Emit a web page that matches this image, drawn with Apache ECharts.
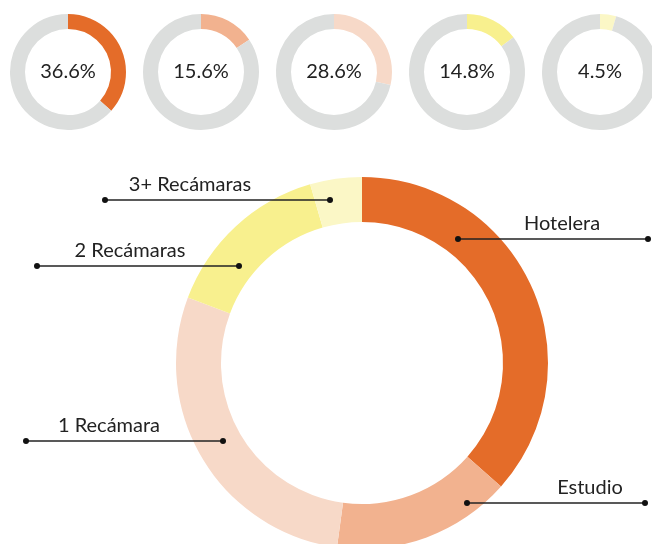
<!DOCTYPE html>
<html><head><meta charset="utf-8">
<script src="https://cdn.jsdelivr.net/npm/echarts@6/dist/echarts.min.js"></script>
<style>html,body{margin:0;padding:0;background:#fff}#c{width:652px;height:544px}</style>
</head><body><div id="c"></div>
<script>
const categories = ['Hotelera', 'Estudio', '1 Recámara', '2 Recámaras', '3+ Recámaras'];
const shares = [36.6, 15.6, 28.6, 14.8, 4.5];
const colors = ['#E46C29', '#F2B28F', '#F7D9C8', '#F8F08E', '#FBF7C6'];
const restColor = '#DCDEDD';

// annotation layout (leader line y, left x, right x, text centre x) per category
const leaders = [
  {y: 239, x1: 458, x2: 648, tx: 562},
  {y: 503, x1: 467, x2: 645, tx: 590},
  {y: 441, x1: 26, x2: 223, tx: 109},
  {y: 266, x1: 37, x2: 239, tx: 130},
  {y: 200, x1: 105, x2: 330, tx: 190}
];
const font = 'Lato, "Noto Sans", sans-serif';

const series = [];
categories.forEach((c, i) => {
  series.push({
    type: 'pie', silent: true, animation: false,
    center: [68 + i * 133, 72], radius: [43, 58],
    startAngle: 90, clockwise: true,
    label: {show: false},
    labelLine: {show: false},
    data: [
      {value: shares[i], name: c, itemStyle: {color: colors[i]},
       label: {show: true, position: 'center', formatter: shares[i].toFixed(1) + '%',
               fontFamily: font, fontSize: 20, color: '#222'}},
      {value: +(100 - shares[i]).toFixed(1), name: 'resto', itemStyle: {color: restColor}}
    ]
  });
});
series.push({
  type: 'pie', silent: true, animation: false,
  center: [362, 363], radius: [141, 186],
  startAngle: 90, clockwise: true,
  label: {show: false}, labelLine: {show: false},
  data: categories.map((c, i) => ({value: shares[i], name: c, itemStyle: {color: colors[i]}}))
});

const graphic = [];
leaders.forEach((l, i) => {
  graphic.push({type: 'line', z: 100, shape: {x1: l.x1, y1: l.y, x2: l.x2, y2: l.y}, style: {stroke: '#222', lineWidth: 1.3}});
  graphic.push({type: 'circle', z: 100, shape: {cx: l.x1, cy: l.y, r: 3}, style: {fill: '#111'}});
  graphic.push({type: 'circle', z: 100, shape: {cx: l.x2, cy: l.y, r: 3}, style: {fill: '#111'}});
  graphic.push({type: 'text', z: 100, x: l.tx, y: l.y - 5,
    style: {text: categories[i], fill: '#222', font: '20px ' + font, textAlign: 'center', textVerticalAlign: 'bottom'}});
});

const chart = echarts.init(document.getElementById('c'));
chart.setOption({animation: false, series, graphic});
</script></body></html>
